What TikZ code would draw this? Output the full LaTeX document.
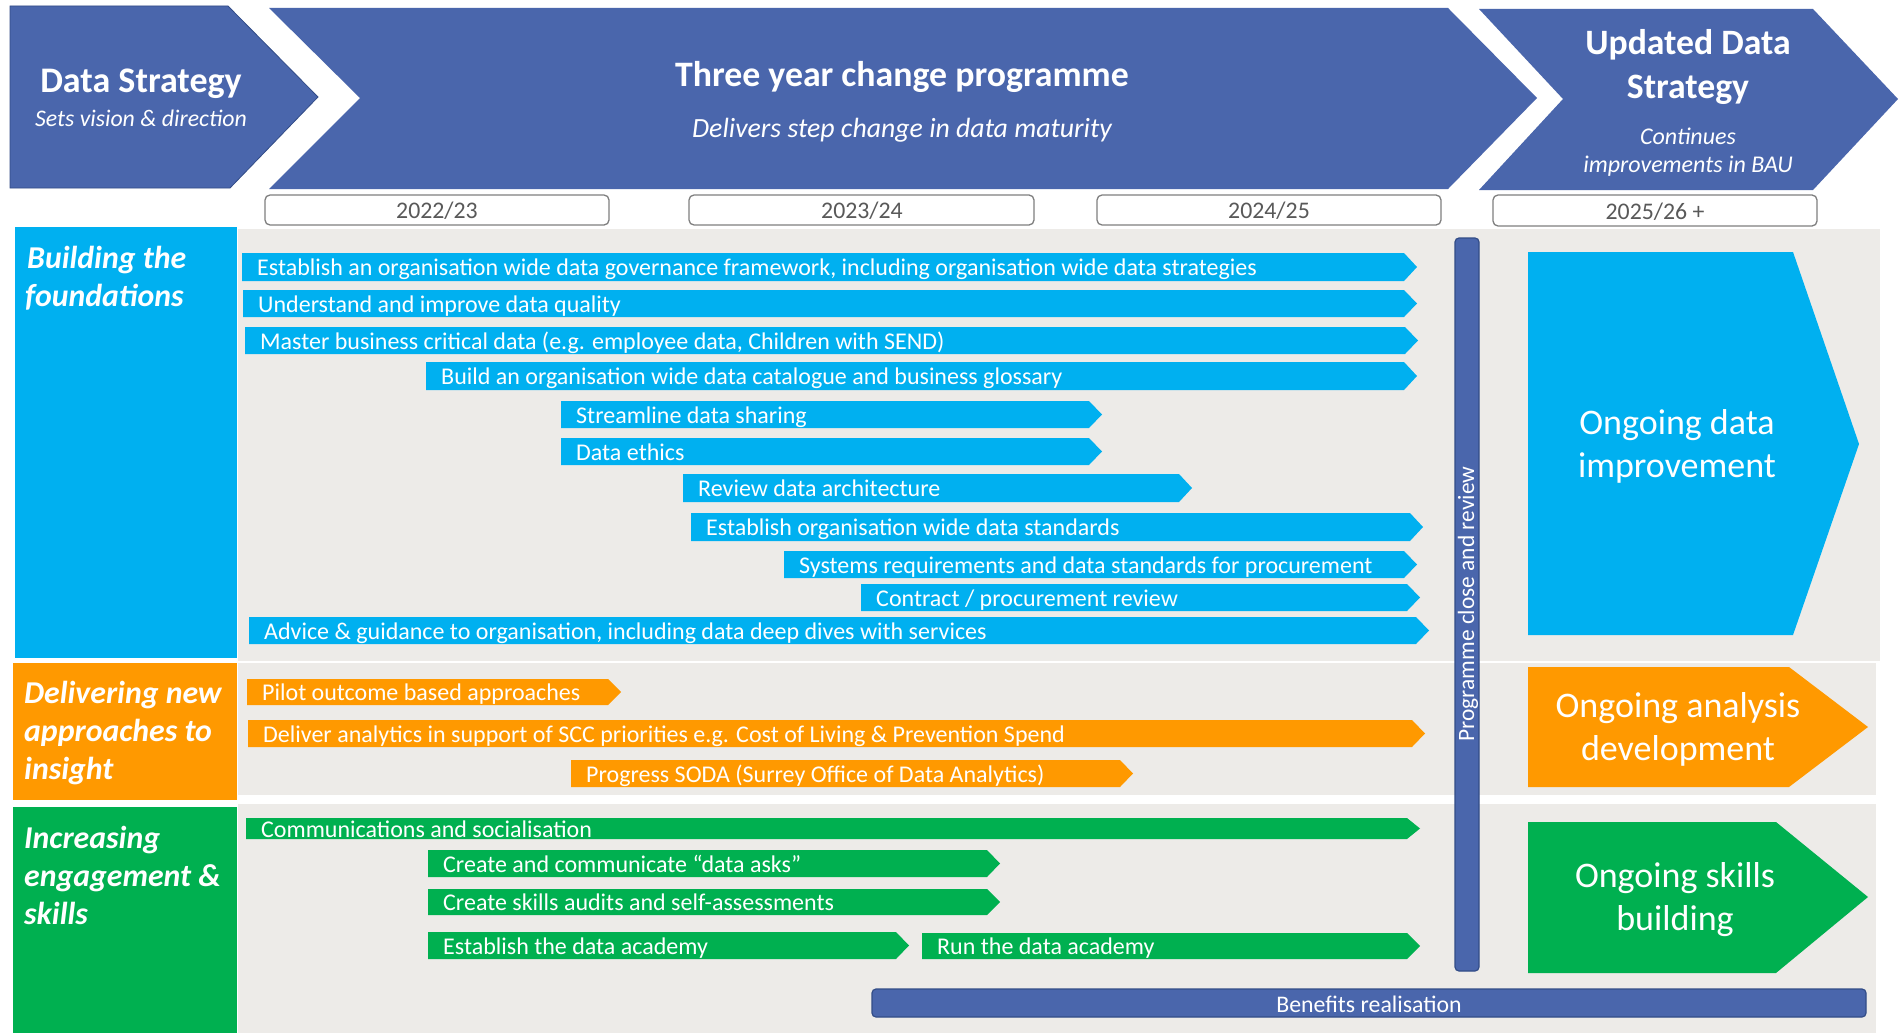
\documentclass[tikz,border=0pt]{standalone}
\usepackage{fontspec}
\setmainfont{Carlito}
\definecolor{dblue}{RGB}{74,102,172}
\definecolor{dblueb}{RGB}{50,76,135}
\definecolor{lblue}{RGB}{0,176,240}
\definecolor{orng}{RGB}{255,153,0}
\definecolor{grn}{RGB}{0,176,80}
\definecolor{bggrey}{RGB}{237,235,232}
\definecolor{yrgrey}{RGB}{89,89,89}
\definecolor{boxgrey}{RGB}{127,127,127}
\newcommand\taskbar[7]{%
  \fill[#1] (#3,#5) -- (#4,#5) -- ({#4+13},{(#5+#6)/2}) -- (#4,#6) -- (#3,#6) -- cycle;
  \node[bartext] (#2) at ({#3+15},{(#5+#6)/2+1}) {#7};}
\begin{document}
\begin{tikzpicture}[x=1pt,y=-1pt,
  bartext/.style={anchor=west,inner sep=0pt,text=white,font=\fontsize{24}{28}\selectfont,text height=15.4pt,text depth=0pt},
  hdtitle/.style={text=white,font=\fontsize{36}{44}\selectfont\bfseries,align=center,inner sep=0pt},
  hdsub/.style={text=white,font=\fontsize{24}{28}\selectfont\itshape,align=center,inner sep=0pt},
  yearbox/.style={draw=boxgrey,line width=1.3pt,fill=white,rounded corners=5pt},
  yeartext/.style={text=yrgrey,font=\fontsize{23.8}{26}\selectfont,inner sep=0pt,text height=15pt,text depth=0pt},
  rowlabel/.style={anchor=base west,text=white,font=\fontsize{31.8}{38}\selectfont\bfseries\itshape,inner sep=0pt},
  ongoing/.style={text=white,font=\fontsize{36}{43}\selectfont,align=center,inner sep=0pt},
  darkbar/.style={fill=dblue,draw=dblueb,line width=1.2pt,rounded corners=4pt}]
\useasboundingbox (0,0) rectangle (1901,1033);
\fill[white] (0,0) rectangle (1901,1033);
% header chevrons
\filldraw[fill=dblue,draw=dblueb,line width=0.8pt] (10,6) -- (228,6) -- (318,97) -- (230,188) -- (10,188) -- cycle;
\fill[dblue] (269,8) -- (1448,8) -- (1537,98) -- (1448,189) -- (269,189) -- (360,98) -- cycle;
\fill[dblue] (1479,9) -- (1813,9) -- (1898,99) -- (1813,190) -- (1479,190) -- (1563,99) -- cycle;
\node[hdtitle] (ds) at (141,84) {Data Strategy};
\node[hdsub,font=\fontsize{23.8}{28}\selectfont\itshape] (dssub) at (141,118) {Sets vision \& direction};
\node[hdtitle,font=\fontsize{35.8}{44}\selectfont\bfseries] (tyc) at (902,77) {Three year change programme};
\node[hdsub,font=\fontsize{27.8}{32}\selectfont\itshape] (tycsub) at (902,130) {Delivers step change in data maturity};
\node[hdtitle,font=\fontsize{35.7}{44}\selectfont\bfseries] (uds) at (1688,67) {Updated Data\\Strategy};
\node[hdsub,font=\fontsize{24}{28}\selectfont\itshape] (udssub) at (1688,152) {Continues\\improvements in BAU};
% year boxes
\draw[yearbox] (265,195) rectangle (609,225);
\node[yeartext] (y1) at (437,211) {2022/23};
\draw[yearbox] (689,195) rectangle (1034,225);
\node[yeartext] (y2) at (862,211) {2023/24};
\draw[yearbox] (1097,195) rectangle (1441,225);
\node[yeartext] (y3) at (1269,211) {2024/25};
\draw[yearbox] (1493,195) rectangle (1817,226);
\node[yeartext] (y4) at (1655,212) {2025/26 +};
% row backgrounds
\fill[bggrey] (238,229) rectangle (1880,661);
\fill[bggrey] (238,663) rectangle (1876,795);
\fill[bggrey] (238,804) rectangle (1876,1033);
\fill[lblue] (15,227) rectangle (237,658);
\fill[orng] (13,663) rectangle (237,800);
\fill[grn] (13,807) rectangle (237,1033);
\node[rowlabel] (l1a) at (27,268) {Building the};
\node[rowlabel] (l1b) at (25,306) {foundations};
\node[rowlabel] (l2a) at (24,703) {Delivering new};
\node[rowlabel] (l2b) at (24,741) {approaches to};
\node[rowlabel] (l2c) at (24,779) {insight};
\node[rowlabel] (l3a) at (24,848) {Increasing};
\node[rowlabel] (l3b) at (24,886) {engagement \&};
\node[rowlabel] (l3c) at (24,924) {skills};
% blue bars
\taskbar{lblue}{b1}{242}{1404}{253}{281}{Establish an organisation wide data governance framework, including organisation wide data strategies}
\taskbar{lblue}{b2}{243}{1404}{290}{317}{Understand and improve data quality}
\taskbar{lblue}{b3}{245}{1405}{327}{354}{Master business critical data (e.g. employee data, Children with SEND)}
\taskbar{lblue}{b4}{426}{1404}{362}{390}{Build an organisation wide data catalogue and business glossary}
\taskbar{lblue}{b5}{561}{1089}{401}{428}{Streamline data sharing}
\taskbar{lblue}{b6}{561}{1089}{438}{465}{Data ethics}
\taskbar{lblue}{b7}{683}{1179}{474}{502}{Review data architecture}
\taskbar{lblue}{b8}{691}{1410}{513}{541}{Establish organisation wide data standards}
\taskbar{lblue}{b9}{784}{1404}{551}{578}{Systems requirements and data standards for procurement}
\taskbar{lblue}{b10}{861}{1407}{584}{611}{Contract / procurement review}
\taskbar{lblue}{b11}{249}{1416}{617}{644}{Advice \& guidance to organisation, including data deep dives with services}
% orange bars
\taskbar{orng}{o1}{247}{608}{679}{705}{Pilot outcome based approaches}
\taskbar{orng}{o2}{248}{1412}{720}{747}{Deliver analytics in support of SCC priorities e.g. Cost of Living \& Prevention Spend}
\taskbar{orng}{o3}{571}{1120}{760}{787}{Progress SODA (Surrey Office of Data Analytics)}
% green bars
\taskbar{grn}{g1}{246}{1407}{818}{839}{Communications and socialisation}
\taskbar{grn}{g2}{428}{987}{850}{877}{Create and communicate “data asks”}
\taskbar{grn}{g3}{428}{987}{889}{915}{Create skills audits and self-assessments}
\taskbar{grn}{g4}{428}{896}{932}{959}{Establish the data academy}
\taskbar{grn}{g5}{922}{1407}{933}{959}{Run the data academy}
% programme close and benefits
\draw[darkbar] (1455,238) rectangle (1479,971);
\node[text=white,font=\fontsize{23.4}{26}\selectfont,rotate=90,inner sep=0pt] (pcr) at (1468,604) {Programme close and review};
\draw[darkbar] (872,989) rectangle (1866,1017);
\node[text=white,font=\fontsize{23.8}{26}\selectfont,inner sep=0pt,text height=15.3pt,text depth=0pt] (ben) at (1369,1005) {Benefits realisation};
% ongoing shapes
\fill[lblue] (1528,252) -- (1793,252) -- (1859,444) -- (1793,635) -- (1528,635) -- cycle;
\node[ongoing] (on1) at (1677,446) {Ongoing data\\improvement};
\fill[orng] (1528,667) -- (1789,667) -- (1868,727) -- (1789,787) -- (1528,787) -- cycle;
\node[ongoing] (on2) at (1678,729) {Ongoing analysis\\development};
\fill[grn] (1528,822) -- (1776,822) -- (1868,897) -- (1776,973) -- (1528,973) -- cycle;
\node[ongoing] (on3) at (1675,900) {Ongoing skills\\building};
\end{tikzpicture}
\end{document}
